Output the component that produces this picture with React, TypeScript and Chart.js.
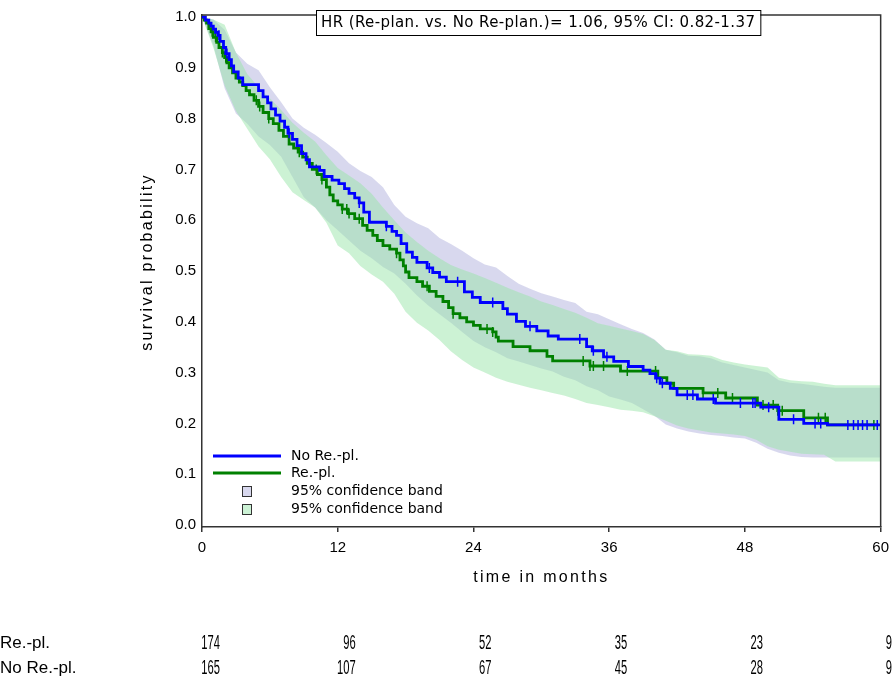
import React, { useEffect, useRef } from "react";
import { Chart, registerables } from "chart.js";

Chart.register(...registerables);

const W = 896;
const H = 679;

// ---- axis ticks ----
const xTickValues = [0, 12, 24, 36, 48, 60];
const yTickValues = [0, 0.1, 0.2, 0.3, 0.4, 0.5, 0.6, 0.7, 0.8, 0.9, 1.0];

// ---- Kaplan-Meier steps: No Re.-pl. (blue) ----
const noReplTimes = [
  0, 0.3, 0.6, 0.8, 1.0, 1.2, 1.4, 1.6, 1.9, 2.1, 2.4, 2.6, 2.8, 3.2, 3.6,
  5.0, 5.4, 5.8, 6.1, 6.5, 6.9, 7.3, 7.6, 8.0, 8.4, 8.8, 9.2, 9.5,
  10.4, 10.8, 11.5, 12.1, 12.6, 13.0, 13.5, 13.9, 14.3, 14.8,
  16.3, 16.8, 17.2, 17.6, 18.1, 18.6, 19.0, 19.9, 20.4, 21.0, 21.6,
  23.2, 23.9, 24.6, 26.6, 27.0, 27.8, 28.6, 29.6, 30.6, 31.5,
  34.0, 34.5, 35.5, 36.4, 37.7, 39.0, 39.6, 40.1, 40.5, 41.4, 42.0,
  43.8, 45.4, 49.4, 51.0, 53.2, 55.3, 60,
];
const noReplSurv = [
  1, 0.994, 0.988, 0.982, 0.976, 0.97, 0.964, 0.952, 0.94, 0.928, 0.916, 0.904, 0.892, 0.88, 0.867,
  0.855, 0.843, 0.831, 0.819, 0.807, 0.795, 0.783, 0.771, 0.759, 0.747, 0.731, 0.719, 0.705,
  0.698, 0.686, 0.679, 0.672, 0.662, 0.653, 0.644, 0.634, 0.616, 0.596,
  0.588, 0.578, 0.57, 0.554, 0.537, 0.527, 0.517, 0.506, 0.497, 0.488, 0.479,
  0.459, 0.448, 0.438, 0.426, 0.415, 0.401, 0.391, 0.382, 0.372, 0.366,
  0.351, 0.343, 0.331, 0.322, 0.312, 0.305, 0.298, 0.289, 0.279, 0.269, 0.256,
  0.248, 0.24, 0.232, 0.208, 0.2, 0.197, 0.197,
];
const noReplCensor = [
  1.5, 2.2, 7.7, 13.9, 16.3, 20.1, 22.6, 25.7, 29.0, 33.4, 34.6, 35.8, 40.2, 40.7,
  42.9, 43.4, 45.2, 47.6, 48.7, 48.9, 50.1, 52.3, 54.2, 54.7, 57.1, 57.6, 58.0,
  58.4, 58.8, 59.7,
];

// ---- Kaplan-Meier steps: Re.-pl. (green) ----
const replTimes = [
  0, 0.2, 0.4, 0.6, 0.8, 1.0, 1.3, 1.5, 1.8, 2.0, 2.2, 2.4, 2.7, 3.0, 3.3, 3.6, 3.9,
  4.2, 4.6, 5.0, 5.4, 5.9, 6.3, 6.8, 7.2, 7.7, 8.1, 8.5, 8.9, 9.3, 9.75, 10.2, 10.6,
  11.0, 11.3, 11.6, 12.0, 12.4, 12.9, 13.5, 14.2, 14.6, 15.1, 15.5, 16.0, 16.6, 17.2,
  17.5, 17.8, 18.0, 18.3, 19.0, 19.5, 20.1, 20.7, 21.3, 21.8, 22.2, 22.8, 23.4, 24.0,
  24.6, 25.7, 26.0, 26.2, 27.5, 29.0, 30.5, 31.0, 34.3, 37.0, 40.3, 41.1, 41.7,
  44.3, 46.3, 49.1, 50.9, 53.2, 55.3, 59.8,
];
const replSurv = [
  1, 0.994, 0.988, 0.977, 0.971, 0.96, 0.95, 0.94, 0.93, 0.92, 0.91, 0.9, 0.89, 0.88, 0.872, 0.865, 0.855,
  0.847, 0.836, 0.824, 0.812, 0.8, 0.79, 0.777, 0.765, 0.75, 0.742, 0.734, 0.724, 0.712, 0.7, 0.69, 0.68,
  0.665, 0.65, 0.638, 0.63, 0.622, 0.613, 0.603, 0.59, 0.58, 0.57, 0.56, 0.55, 0.543, 0.535,
  0.522, 0.51, 0.498, 0.487, 0.479, 0.47, 0.46, 0.45, 0.44, 0.428, 0.416, 0.408, 0.4, 0.393,
  0.386, 0.38, 0.37, 0.362, 0.351, 0.343, 0.332, 0.323, 0.313, 0.303, 0.29, 0.279, 0.269,
  0.26, 0.25, 0.236, 0.225, 0.211, 0.197, 0.197,
];
const replCensor = [
  0.9, 1.2, 1.8, 2.1, 4.8, 5.1, 5.9, 8.6, 10.1, 10.6, 12.4, 12.8, 13.0, 13.9, 17.2,
  19.9, 22.2, 25.2, 25.7, 33.7, 34.3, 34.6, 35.5, 37.6, 40.1, 44.3, 45.6, 46.9,
  49.6, 50.5, 50.9, 51.3, 54.5, 55.1, 59.4,
];

// ---- 95% confidence bands, read at whole months 0..60 ----
const bandMonths = [
  0, 1, 2, 3, 4, 5, 6, 7, 8, 9, 10, 11, 12, 13, 14, 15, 16, 17, 18, 19, 20,
  21, 22, 23, 24, 25, 26, 27, 28, 29, 30, 31, 32, 33, 34, 35, 36, 37, 38, 39, 40,
  41, 42, 43, 44, 45, 46, 47, 48, 49, 50, 51, 52, 53, 54, 55, 56, 57, 58, 59, 60,
];
const noReplUpper = [
  1.0, 0.995, 0.975, 0.93, 0.908, 0.895, 0.862, 0.832, 0.8, 0.782, 0.768, 0.752, 0.735, 0.712, 0.697, 0.685, 0.665, 0.63, 0.607, 0.594, 0.584,
  0.565, 0.553, 0.54, 0.525, 0.513, 0.507, 0.49, 0.475, 0.465, 0.456, 0.45, 0.443, 0.437, 0.42, 0.415, 0.405, 0.395, 0.386, 0.378, 0.365,
  0.345, 0.34, 0.333, 0.332, 0.328, 0.32, 0.315, 0.31, 0.305, 0.3, 0.285, 0.28, 0.278, 0.275, 0.272, 0.27, 0.27, 0.27, 0.27, 0.27,
];
const noReplLower = [
  1.0, 0.945, 0.86, 0.81, 0.79, 0.765, 0.748, 0.725, 0.685, 0.645, 0.625, 0.6, 0.58, 0.56, 0.54, 0.525, 0.508, 0.495, 0.475, 0.452, 0.432,
  0.415, 0.398, 0.38, 0.362, 0.35, 0.34, 0.328, 0.322, 0.315, 0.308, 0.302, 0.292, 0.285, 0.273, 0.265, 0.253, 0.247, 0.24, 0.228, 0.215,
  0.198, 0.19, 0.184, 0.18, 0.177, 0.175, 0.172, 0.17, 0.162, 0.15, 0.142, 0.137, 0.134, 0.133, 0.133, 0.133, 0.133, 0.133, 0.133, 0.133,
];
const replUpper = [
  1.0, 0.995, 0.985, 0.93, 0.888, 0.862, 0.84, 0.817, 0.792, 0.772, 0.755, 0.728, 0.703, 0.688, 0.673, 0.652, 0.625, 0.6, 0.576, 0.557, 0.54,
  0.525, 0.512, 0.503, 0.495, 0.486, 0.477, 0.467, 0.458, 0.45, 0.44, 0.433, 0.425, 0.418, 0.408, 0.397, 0.392, 0.387, 0.382, 0.376, 0.364,
  0.345, 0.342, 0.336, 0.335, 0.333, 0.325, 0.32, 0.316, 0.313, 0.31, 0.29, 0.285, 0.283, 0.282, 0.278, 0.275, 0.275, 0.275, 0.275, 0.275,
];
const replLower = [
  1.0, 0.94, 0.865, 0.815, 0.78, 0.745, 0.72, 0.685, 0.655, 0.64, 0.625, 0.595, 0.55, 0.535, 0.51, 0.493, 0.479, 0.455, 0.42, 0.398, 0.383,
  0.364, 0.342, 0.325, 0.31, 0.3, 0.29, 0.282, 0.276, 0.27, 0.265, 0.26, 0.255, 0.248, 0.24, 0.236, 0.232, 0.227, 0.225, 0.222, 0.214,
  0.205, 0.196, 0.19, 0.186, 0.182, 0.18, 0.178, 0.175, 0.168, 0.155, 0.148, 0.144, 0.14, 0.139, 0.138, 0.125, 0.125, 0.125, 0.125, 0.125,
];

// ---- number at risk ----
const riskLabels = ["Re.-pl.", "No Re.-pl."];
const riskRepl = [174, 96, 52, 35, 23, 9];
const riskNoRepl = [165, 107, 67, 45, 28, 9];

const legendLabels = ["No Re.-pl.", "Re.-pl.", "95% confidence band", "95% confidence band"];
const hrText = "HR (Re-plan. vs. No Re-plan.)= 1.06, 95% CI: 0.82-1.37";
const xTitle = "time in months";
const yTitle = "survival probability";

// ---- colours ----
const BLUE = "#0000ff";
const GREEN = "#008000";
const PURPLE_FILL = "rgba(150,150,210,0.37)";
const GREEN_FILL = "rgba(153,229,169,0.5)";
const PURPLE_SWATCH = "#d8d8ee";
const GREEN_SWATCH = "#ccf2d5";
const AXIS = "#333333";

function stepValue(times: number[], surv: number[], t: number) {
  let v = surv[0];
  for (let i = 0; i < times.length; i++) {
    if (times[i] <= t) v = surv[i];
    else break;
  }
  return v;
}

function kmPoints(times: number[], surv: number[]) {
  return times.map((t, i) => ({ x: t, y: surv[i] }));
}

function censorPoints(cens: number[], times: number[], surv: number[]) {
  return cens.map((t) => ({ x: t, y: stepValue(times, surv, t) }));
}

function bandPoints(months: number[], vals: number[]) {
  return months.map((m, i) => ({ x: m, y: vals[i] }));
}

const extrasPlugin = {
  id: "extras",
  afterDraw(chart: any) {
    const { ctx, chartArea: a, scales } = chart;
    const xs = scales.x;
    ctx.save();

    // frame (top + right)
    ctx.strokeStyle = AXIS;
    ctx.lineWidth = 1.5;
    ctx.beginPath();
    ctx.moveTo(a.left, a.top);
    ctx.lineTo(a.right, a.top);
    ctx.lineTo(a.right, a.bottom);
    ctx.stroke();

    // HR box
    (ctx as any).letterSpacing = "0.4px";
    ctx.font = '15px "DejaVu Sans", sans-serif';
    ctx.textBaseline = "middle";
    ctx.textAlign = "left";
    const tw = ctx.measureText(hrText).width;
    ctx.fillStyle = "#fff";
    ctx.fillRect(316, 10, tw + 10, 25);
    ctx.strokeStyle = "#000";
    ctx.lineWidth = 1;
    ctx.strokeRect(316.5, 10.5, tw + 10, 25);
    ctx.fillStyle = "#000";
    ctx.fillText(hrText, 321, 23);
    (ctx as any).letterSpacing = "0px";

    // legend
    ctx.lineWidth = 2.8;
    ctx.strokeStyle = BLUE;
    ctx.beginPath();
    ctx.moveTo(213, 456);
    ctx.lineTo(281, 456);
    ctx.stroke();
    ctx.strokeStyle = GREEN;
    ctx.beginPath();
    ctx.moveTo(213, 473);
    ctx.lineTo(281, 473);
    ctx.stroke();
    ctx.lineWidth = 1;
    ctx.strokeStyle = "#333";
    ctx.fillStyle = PURPLE_SWATCH;
    ctx.fillRect(242, 486, 9, 10);
    ctx.strokeRect(242.5, 486.5, 9, 10);
    ctx.fillStyle = GREEN_SWATCH;
    ctx.fillRect(242, 504, 9, 10);
    ctx.strokeRect(242.5, 504.5, 9, 10);
    ctx.fillStyle = "#000";
    ctx.font = '14px "DejaVu Sans", sans-serif';
    const ly = [456, 473, 491, 509];
    legendLabels.forEach((t, i) => ctx.fillText(t, 291, ly[i]));

    // axis titles
    (ctx as any).letterSpacing = "2.3px";
    ctx.font = '16px "Liberation Sans", Arial, sans-serif';
    ctx.textAlign = "center";
    ctx.fillText(xTitle, (a.left + a.right) / 2, 578);
    ctx.save();
    ctx.translate(148, 262);
    ctx.rotate(-Math.PI / 2);
    ctx.fillText(yTitle, 0, 0);
    ctx.restore();
    (ctx as any).letterSpacing = "0px";

    // number-at-risk table
    const rows = [riskRepl, riskNoRepl];
    const rowY = [643, 668];
    ctx.font = '17px "Liberation Sans", Arial, sans-serif';
    ctx.textAlign = "left";
    riskLabels.forEach((lab, r) => ctx.fillText(lab, 0, rowY[r]));
    ctx.font = '20px "Liberation Sans", Arial, sans-serif';
    ctx.textAlign = "right";
    rows.forEach((vals, r) => {
      vals.forEach((v, i) => {
        const px = Math.min(xs.getPixelForValue(xTickValues[i]) + 18, 892);
        ctx.save();
        ctx.translate(px, rowY[r]);
        ctx.scale(0.56, 1);
        ctx.fillText(String(v), 0, 0);
        ctx.restore();
      });
    });

    ctx.restore();
  },
};

export default function App() {
  const ref = useRef<HTMLCanvasElement>(null);

  useEffect(() => {
    const canvas = ref.current;
    if (!canvas) return;
    const lineBase = { pointRadius: 0, borderWidth: 2.8, fill: false, stepped: true as const, tension: 0 };
    const bandBase = { pointRadius: 0, borderWidth: 0, tension: 0, stepped: false as const };
    const censorBase = {
      showLine: false,
      pointStyle: "line" as const,
      pointRotation: 90,
      pointRadius: 5,
      pointBorderWidth: 1.5,
    };
    const chart = new Chart(canvas, {
      type: "line",
      data: {
        datasets: [
          { ...lineBase, label: "No Re.-pl.", data: kmPoints(noReplTimes, noReplSurv), borderColor: BLUE, order: 1 },
          { ...censorBase, label: "nr censor", data: censorPoints(noReplCensor, noReplTimes, noReplSurv), borderColor: BLUE, pointBorderColor: BLUE, order: 0 },
          { ...lineBase, label: "Re.-pl.", data: kmPoints(replTimes, replSurv), borderColor: GREEN, order: 3 },
          { ...censorBase, label: "r censor", data: censorPoints(replCensor, replTimes, replSurv), borderColor: GREEN, pointBorderColor: GREEN, order: 2 },
          { ...bandBase, label: "r lower", data: bandPoints(bandMonths, replLower), borderColor: "rgba(0,0,0,0)", fill: false, order: 6 },
          { ...bandBase, label: "r upper", data: bandPoints(bandMonths, replUpper), borderColor: "rgba(0,0,0,0)", backgroundColor: GREEN_FILL, fill: "-1", order: 5 },
          { ...bandBase, label: "nr lower", data: bandPoints(bandMonths, noReplLower), borderColor: "rgba(0,0,0,0)", fill: false, order: 8 },
          { ...bandBase, label: "nr upper", data: bandPoints(bandMonths, noReplUpper), borderColor: "rgba(0,0,0,0)", backgroundColor: PURPLE_FILL, fill: "-1", order: 7 },
        ] as any,
      },
      options: {
        animation: false,
        responsive: false,
        maintainAspectRatio: false,
        devicePixelRatio: 1,
        layout: { padding: { left: 0, right: 15, top: 5, bottom: 0 } },
        plugins: {
          legend: { display: false },
          tooltip: { enabled: false },
          filler: { propagate: false },
        },
        scales: {
          x: {
            type: "linear",
            min: 0,
            max: 60,
            afterBuildTicks: (s: any) => {
              s.ticks = xTickValues.map((v) => ({ value: v }));
            },
            afterFit: (s: any) => {
              s.height = 152;
            },
            grid: { display: true, drawOnChartArea: false, drawTicks: true, tickLength: 5, color: AXIS, lineWidth: 1.5 },
            border: { display: true, color: AXIS, width: 1.5 },
            ticks: {
              autoSkip: false,
              maxRotation: 0,
              padding: 7,
              color: "#000",
              font: { family: '"Liberation Sans", Arial, sans-serif', size: 15 },
            },
          },
          y: {
            type: "linear",
            min: -0.004,
            max: 1.004,
            afterBuildTicks: (s: any) => {
              s.ticks = yTickValues.map((v) => ({ value: v }));
            },
            afterFit: (s: any) => {
              s.width = 202;
            },
            grid: { display: false, drawTicks: false },
            border: { display: true, color: AXIS, width: 1.5 },
            ticks: {
              padding: 6,
              color: "#000",
              font: { family: '"Liberation Sans", Arial, sans-serif', size: 15 },
              callback: (v: any) => Number(v).toFixed(1),
            },
          },
        },
      } as any,
      plugins: [extrasPlugin],
    });
    return () => chart.destroy();
  }, []);

  return (
    <div style={{ position: "fixed", left: 0, top: 0, width: W, height: H, background: "#fff" }}>
      <canvas ref={ref} width={W} height={H} style={{ width: W, height: H, display: "block" }} />
    </div>
  );
}
